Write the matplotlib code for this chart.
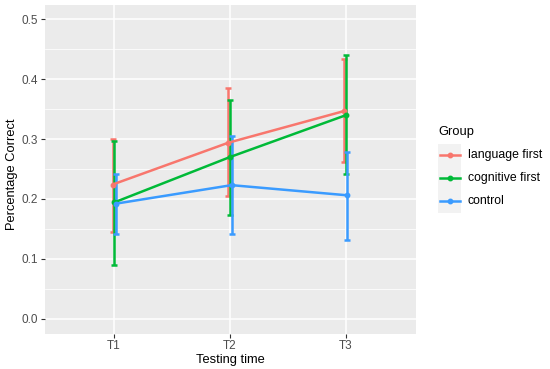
import matplotlib
matplotlib.use("Agg")
import matplotlib.pyplot as plt
from matplotlib.lines import Line2D
from matplotlib.patches import Rectangle
import numpy as np

plt.rcParams['font.family'] = ['Liberation Sans', 'DejaVu Sans']

times = ["T1", "T2", "T3"]
groups = ["language first", "cognitive first", "control"]
colors = ["#F8766D", "#00BA38", "#3A9BFF"]

means = {
    "language first": [0.224, 0.294, 0.347],
    "cognitive first": [0.194, 0.270, 0.340],
    "control": [0.192, 0.223, 0.206],
}
upper = {
    "language first": [0.300, 0.385, 0.434],
    "cognitive first": [0.296, 0.365, 0.440],
    "control": [0.241, 0.305, 0.278],
}
lower = {
    "language first": [0.145, 0.205, 0.262],
    "cognitive first": [0.090, 0.173, 0.241],
    "control": [0.142, 0.141, 0.132],
}

fig = plt.figure(figsize=(5.5, 3.69), dpi=100)
W, H = 550, 369
left, right, top, bottom = 44.5, 415.5, 4.5, 333.5
ax = fig.add_axes([left / W, 1 - bottom / H, (right - left) / W, (bottom - top) / H])
ax.set_facecolor("#EBEBEB")
for s in ax.spines.values():
    s.set_visible(False)

x = np.arange(1, len(times) + 1)
dodge = 0.04
offsets = [-dodge / 3, 0, dodge / 3]

# grid
for v in np.arange(0.05, 0.5, 0.1):
    ax.axhline(v, color="white", lw=0.55, zorder=0)
for v in np.arange(0, 0.51, 0.1):
    ax.axhline(v, color="white", lw=1.1, zorder=0)
for xv in x:
    ax.axvline(xv, color="white", lw=1.1, zorder=0)

LW = 1.8
MS = 3.2
for g, c, off in zip(groups, colors, offsets):
    xs = x + off
    m = np.array(means[g])
    up = np.array(upper[g])
    lo = np.array(lower[g])
    ax.errorbar(xs, m, yerr=[m - lo, up - m], fmt="none", ecolor=c,
                elinewidth=LW, capsize=2.3, capthick=LW, zorder=2)
    ax.plot(xs, m, color=c, lw=LW, marker="o", ms=MS, zorder=3,
            solid_capstyle="butt")

ax.set_xlim(0.4, 3.6)
ax.set_ylim(-0.025, 0.525)
ax.set_xticks(x)
ax.set_xticklabels(times)
ax.set_yticks(np.arange(0, 0.51, 0.1))
ax.set_yticklabels([f"{v:.1f}" for v in np.arange(0, 0.51, 0.1)])
ax.tick_params(axis="both", colors="#333333", length=3, width=0.8,
               labelsize=8.5, labelcolor="#4D4D4D", pad=2)
ax.set_xlabel("Testing time", fontsize=9.3)
ax.set_ylabel("Percentage Correct", fontsize=9.3)
ax.xaxis.set_label_coords(0.5, -0.062)
ax.yaxis.set_label_coords((18 - left) / (right - left), 0.485)

# legend drawn in pixel coordinates
lax = fig.add_axes([0, 0, 1, 1])
lax.set_xlim(0, W)
lax.set_ylim(H, 0)
lax.axis("off")
lax.text(438, 131.5, "Group", fontsize=9.3, ha="left", va="center", color="black")
key_top = 143.5
key_h = 23
for i, (g, c) in enumerate(zip(groups, colors)):
    y0 = key_top + i * key_h
    lax.add_patch(Rectangle((438, y0), 23, key_h, facecolor="#F2F2F2", edgecolor="none"))
    yc = y0 + key_h / 2
    lax.add_line(Line2D([440, 459.5], [yc, yc], color=c, lw=LW, marker=None))
    lax.add_line(Line2D([449.75], [yc], color=c, marker="o", ms=MS, lw=0))
    lax.text(468, yc, g, fontsize=8.8, ha="left", va="center", color="black")

fig.savefig("out.png", dpi=100)
